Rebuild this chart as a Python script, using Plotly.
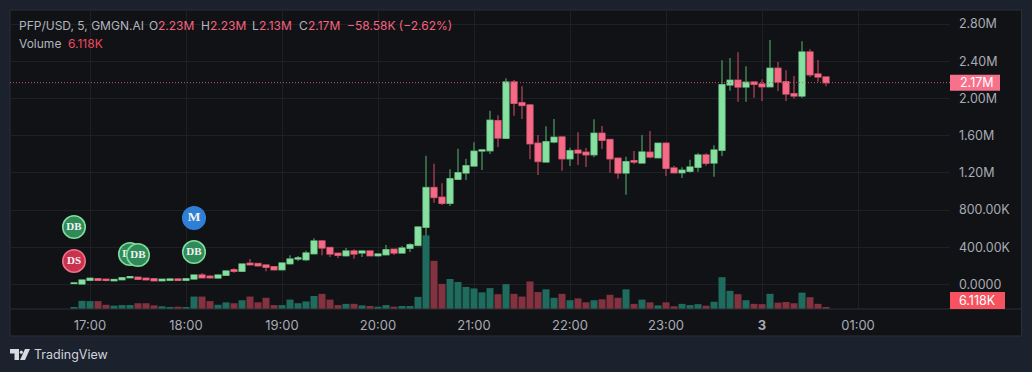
import pandas as pd
import plotly.graph_objects as go

# ---------- data ----------
START_TIME = "2025-03-02 16:50"
BAR_MINUTES = 5

OPEN = [.011,.005,.045,.062,.056,.041,.052,.073,.077,.067,.062,.041,.045,.059,.045,.059,.102,.088,.070,.099,
        .159,.142,.228,.224,.210,.191,.159,.224,.274,.267,.331,.468,.396,.335,.310,.360,.339,.360,.310,.320,
        .378,.339,.389,.421,.615,1.041,.937,.873,1.131,1.199,1.274,1.435,1.438,1.761,1.572,2.177,1.954,1.930,1.518,1.317,
        1.532,1.586,1.352,1.443,1.421,1.395,1.625,1.557,1.357,1.199,1.331,1.306,1.421,1.363,1.518,1.252,1.202,1.217,1.260,1.392,
        1.306,1.443,2.145,2.195,2.123,2.177,2.155,2.126,2.324,2.180,2.051,2.026,2.499,2.263,2.23]
HIGH = [.018,.050,.069,.064,.056,.053,.075,.086,.078,.068,.063,.057,.060,.060,.063,.105,.124,.102,.103,.146,
        .174,.222,.274,.234,.215,.192,.232,.314,.306,.363,.497,.478,.406,.339,.392,.378,.363,.363,.331,.425,
        .385,.414,.443,.629,1.385,1.299,1.088,1.238,1.460,1.352,1.529,1.449,1.868,1.819,2.217,2.198,2.131,1.940,1.607,1.701,
        1.779,1.591,1.471,1.636,1.467,1.776,1.704,1.564,1.365,1.374,1.435,1.607,1.650,1.521,1.529,1.277,1.260,1.342,1.414,1.410,
        1.496,2.410,2.435,2.496,2.346,2.182,2.206,2.628,2.392,2.303,2.241,2.614,2.528,2.413,2.23]
LOW = [.010,.004,.044,.044,.034,.040,.051,.072,.055,.041,.040,.040,.044,.044,.044,.057,.072,.062,.069,.098,
       .127,.141,.212,.191,.142,.158,.158,.213,.253,.253,.325,.314,.296,.285,.299,.277,.296,.306,.299,.317,
       .317,.333,.349,.414,.525,.879,.855,.844,1.123,1.123,1.266,1.231,1.403,1.478,1.564,1.815,1.779,1.346,1.177,1.309,
       1.518,1.223,1.274,1.285,1.263,1.367,1.457,1.202,1.137,.965,1.295,1.303,1.357,1.360,1.166,1.199,1.145,1.202,1.213,1.277,
       1.159,1.381,2.083,1.965,1.965,2.008,1.973,2.120,2.080,1.973,1.997,2.008,2.231,2.180,2.13]
CLOSE = [.016,.048,.067,.045,.045,.052,.073,.084,.056,.052,.041,.056,.059,.045,.062,.102,.073,.073,.102,.145,
         .142,.220,.213,.202,.185,.159,.231,.274,.285,.339,.468,.392,.328,.314,.360,.328,.360,.310,.328,.374,
         .339,.392,.428,.618,1.041,.937,.873,1.137,1.202,1.277,1.432,1.446,1.765,1.575,2.177,1.948,1.926,1.514,1.324,1.535,
         1.582,1.352,1.438,1.414,1.395,1.625,1.550,1.352,1.199,1.320,1.317,1.424,1.371,1.518,1.249,1.202,1.228,1.263,1.392,1.303,
         1.446,2.148,2.195,2.123,2.174,2.152,2.126,2.324,2.177,2.048,2.026,2.499,2.255,2.231,2.17]
VOLUME_K = [6.6,27,26,26,14,11,13,13,19,19,12,9,6.6,7.6,5.6,41,41,26,14,22,
            19,29,41,22,37,13,13,31,19,25,43,50,31,13,17,17,12,10,7.6,13,
            7.6,10,10,40,243,159,83,99,89,73,68,55,69,49,82,50,41,91,56,65,
            37,50,29,35,22,29,32,47,37,65,17,31,22,12,22,9,17,13,16,11,
            24,105,60,49,29,17,16,50,21,23,19,54,39,17,6.118]

MARKER_LABELS = ["DB", "DS", "DB", "DB", "DB", "M"]
MARKER_TIMES = ["2025-03-02 16:50", "2025-03-02 16:50", "2025-03-02 17:25", "2025-03-02 17:30", "2025-03-02 18:05", "2025-03-02 18:05"]
MARKER_PRICES = [.618, .253, .328, .317, .349, .715]
MARKER_FILLS = ["#2f8a58", "#c9324f", "#2f8a58", "#2f8a58", "#2f8a58", "#2f7fd6"]
MARKER_EDGES = ["#7fdc9c", "#f0708a", "#7fdc9c", "#7fdc9c", "#7fdc9c", "#2f7fd6"]
MARKER_TEXT_SIZES = [11, 11, 11, 11, 11, 13.5]

PRICE_TICKS = [0, .4, .8, 1.2, 1.6, 2.0, 2.4, 2.8]
PRICE_TICK_LABELS = ["0.0000", "400.00K", "800.00K", "1.20M", "1.60M", "2.00M", "2.40M", "2.80M"]
TIME_TICKS = ["2025-03-02 17:00", "2025-03-02 18:00", "2025-03-02 19:00", "2025-03-02 20:00", "2025-03-02 21:00",
              "2025-03-02 22:00", "2025-03-02 23:00", "2025-03-03 00:00", "2025-03-03 01:00"]
TIME_TICK_LABELS = ["17:00", "18:00", "19:00", "20:00", "21:00", "22:00", "23:00", "<b>3</b>", "01:00"]
LAST_PRICE = 2.17
LAST_PRICE_LABEL = "2.17M"
LAST_VOLUME_LABEL = "6.118K"

# ---------- style ----------
FONT = "Inter, Roboto, sans-serif"
OUTER = "#1c212e"
PANEL = "#111215"
GRID = "#1e2024"
BORDER = "#2a2e39"
TEXT = "#b2b5be"
AXIS_TEXT = "#a8abb4"
RED = "#f7627f"
UP_BODY, DOWN_BODY = "#86e0a0", "#f76a87"
UP_WICK, DOWN_WICK = "#3f7a52", "#8f3a4c"
W, H = 1032, 372
L, R, T, B = 10, 950, 10, 309

def px(x):
    return (x - L) / (R - L)

def py(y):
    return (B - y) / (B - T)

times = pd.date_range(START_TIME, periods=len(OPEN), freq=f"{BAR_MINUTES}min")
vol_colors = ["#1f6b5d" if c >= o else "#83323f" for o, c in zip(OPEN, CLOSE)]
body_top = [max(o, c) for o, c in zip(OPEN, CLOSE)]
body_bottom = [min(o, c) for o, c in zip(OPEN, CLOSE)]

fig = go.Figure()
fig.add_trace(go.Bar(x=times, y=VOLUME_K, marker=dict(color=vol_colors, line_width=0), yaxis="y", hoverinfo="skip"))
# wicks
fig.add_trace(go.Candlestick(
    x=times, open=OPEN, high=HIGH, low=LOW, close=CLOSE, yaxis="y2", whiskerwidth=0,
    increasing=dict(line=dict(color=UP_WICK, width=1.6), fillcolor=UP_WICK),
    decreasing=dict(line=dict(color=DOWN_WICK, width=1.6), fillcolor=DOWN_WICK),
    hoverinfo="skip",
))
# bodies, drawn over the wicks
fig.add_trace(go.Candlestick(
    x=times, open=OPEN, high=body_top, low=body_bottom, close=CLOSE, yaxis="y2", whiskerwidth=0,
    increasing=dict(line=dict(color=UP_BODY, width=0.6), fillcolor=UP_BODY),
    decreasing=dict(line=dict(color=DOWN_BODY, width=0.6), fillcolor=DOWN_BODY),
    hoverinfo="skip",
))
for lab, t, p, f, e, s in zip(MARKER_LABELS, MARKER_TIMES, MARKER_PRICES, MARKER_FILLS, MARKER_EDGES, MARKER_TEXT_SIZES):
    fig.add_trace(go.Scatter(
        x=[t], y=[p], yaxis="y2", mode="markers+text", text=[f"<b>{lab}</b>"], textposition="middle center",
        marker=dict(size=22.5, color=f, line=dict(color=e, width=1.6)),
        textfont=dict(family="Liberation Serif, serif", size=s, color="#f2f2f2"), hoverinfo="skip",
    ))

shapes = [
    dict(type="rect", xref="paper", yref="paper", x0=px(L), x1=px(1021.5), y0=py(336), y1=py(T),
         fillcolor=PANEL, line=dict(color=BORDER, width=1), layer="below"),
    dict(type="line", xref="paper", yref="paper", x0=px(L), x1=px(1021.5), y0=py(B), y1=py(B),
         line=dict(color=BORDER, width=1)),
    dict(type="line", xref="paper", yref="y2", x0=0, x1=1, y0=LAST_PRICE, y1=LAST_PRICE,
         line=dict(color="#c4566c", width=1, dash="1px,2px")),
    dict(type="rect", xref="paper", yref="y2", ysizemode="pixel", yanchor=LAST_PRICE, y0=-8, y1=8,
         x0=px(R), x1=px(1000), fillcolor="#f7708c", line_width=0),
    dict(type="rect", xref="paper", yref="paper", x0=px(R), x1=px(1005), y0=py(309), y1=py(292),
         fillcolor="#f7525f", line_width=0),
    # TradingView logo
    dict(type="path", xref="paper", yref="paper", fillcolor="#d8dae0", line_width=0,
         path=f"M {px(10)} {py(349)} L {px(19)} {py(349)} L {px(19)} {py(360)} L {px(14.5)} {py(360)} "
              f"L {px(14.5)} {py(353.5)} L {px(10)} {py(353.5)} Z"),
    dict(type="circle", xref="paper", yref="paper", fillcolor="#d8dae0", line_width=0,
         x0=px(19.8), x1=px(22.8), y0=py(354), y1=py(350.5)),
    dict(type="path", xref="paper", yref="paper", fillcolor="#d8dae0", line_width=0,
         path=f"M {px(25)} {py(349)} L {px(30)} {py(349)} L {px(25)} {py(360)} L {px(20)} {py(360)} Z"),
]

def label(x, y, text, color=TEXT, size=12, anchor="left", yref="paper"):
    return dict(xref="paper", yref=yref, x=px(x), y=py(y) if yref == "paper" else y, text=text, showarrow=False,
                xanchor=anchor, yanchor="middle", xshift=-1, font=dict(family=FONT, size=size, color=color))

annotations = [
    label(18, 26, "PFP/USD, 5, GMGN.AI"),
    label(147.5, 26, "O"), label(157, 26, "2.23M", RED),
    label(199.5, 26, "H"), label(209, 26, "2.23M", RED),
    label(250.5, 26, "L"), label(258, 26, "2.13M", RED),
    label(298, 26, "C"), label(307, 26, "2.17M", RED),
    label(345.5, 26, "\u221258.58K (\u22122.62%)", RED),
    label(18, 43, "Volume"), label(66.5, 43, "6.118K", "#f0495f"),
    label(977.5, LAST_PRICE, LAST_PRICE_LABEL, "#ffffff", 12.5, anchor="center", yref="y2"),
    label(958, 300.5, LAST_VOLUME_LABEL, "#ffffff", 12.5),
    label(33, 355, "TradingView", "#d1d4dc", 12.5),
]

fig.update_layout(
    width=W, height=H, autosize=False,
    margin=dict(l=L, r=W - R, t=T, b=H - B),
    paper_bgcolor=OUTER, plot_bgcolor=PANEL, showlegend=False, hovermode=False, boxgap=0.27, boxgroupgap=0,
    bargap=0.12, font=dict(family=FONT, size=12.5, color=TEXT),
    shapes=shapes, annotations=annotations,
    xaxis=dict(type="date", range=["2025-03-02 16:10", "2025-03-03 01:57:30"], rangeslider=dict(visible=False),
               tickmode="array", tickvals=TIME_TICKS, ticktext=TIME_TICK_LABELS, showgrid=True, gridcolor=GRID,
               gridwidth=1, zeroline=False, showline=False, ticks="", ticklabelstandoff=7,
               tickfont=dict(family=FONT, size=13, color=AXIS_TEXT)),
    yaxis=dict(range=[0, 987], visible=False, showgrid=False, zeroline=False, fixedrange=True),
    yaxis2=dict(overlaying="y", side="right", range=[-0.2633, 2.951], tickmode="array", tickvals=PRICE_TICKS,
                ticktext=PRICE_TICK_LABELS, showgrid=True, gridcolor=GRID, gridwidth=1, zeroline=False,
                showline=False, ticks="", ticklabelstandoff=8,
                tickfont=dict(family=FONT, size=12.5, color=AXIS_TEXT)),
)

fig.write_html("out.html", config=dict(displayModeBar=False),
               post_script="document.body.style.margin='0';document.body.style.background='#1c212e';"
                           "document.documentElement.style.overflow='hidden';")
